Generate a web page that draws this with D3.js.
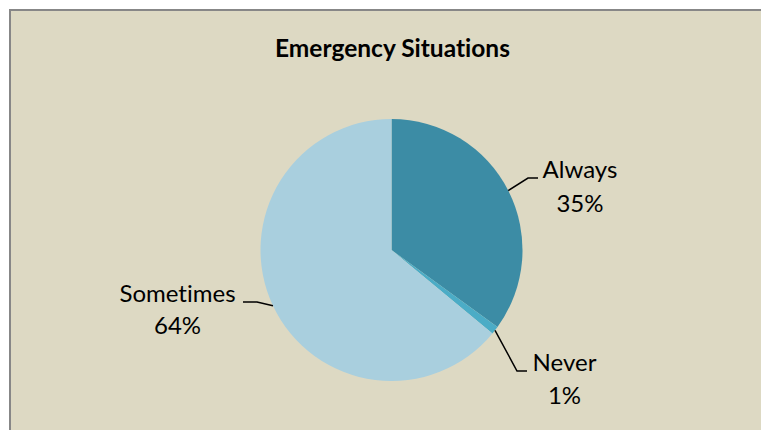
<!DOCTYPE html>
<html>
<head>
<meta charset="utf-8">
<script src="https://cdn.jsdelivr.net/npm/d3@7"></script>
<style>
  html, body { margin: 0; padding: 0; background: #ffffff; }
  svg { display: block; }
  text { font-variant-ligatures: none; font-feature-settings: "liga" 0, "dlig" 0; }
</style>
</head>
<body>
<script>
// Responses to "Emergency Situations"
const categories = ["Always", "Never", "Sometimes"];
const values = [35, 1, 64];
const labels = ["35%", "1%", "64%"];
const colors = ["#3C8CA5", "#4BACC6", "#A9CFDE"];

const width = 761, height = 430;
const cx = 391.5, cy = 250, radius = 131;

const svg = d3.select("body").append("svg")
  .attr("width", width)
  .attr("height", height);

// chart area with grey frame on top and left
svg.append("rect")
  .attr("x", 10).attr("y", 10)
  .attr("width", width - 10).attr("height", height - 10)
  .attr("fill", "#DDD9C3");
svg.append("path")
  .attr("d", `M10,${height} V10 H${width}`)
  .attr("fill", "none")
  .attr("stroke", "#878787")
  .attr("stroke-width", 2);

const font = "Lato, 'Open Sans', sans-serif";

svg.append("text")
  .attr("x", 392.5).attr("y", 57)
  .attr("text-anchor", "middle")
  .attr("font-family", font)
  .attr("font-weight", "bold")
  .attr("font-size", 24.5)
  .attr("fill", "#000")
  .text("Emergency Situations");

const data = categories.map((c, i) => ({ name: c, value: values[i], label: labels[i], color: colors[i] }));

const pie = d3.pie().value(d => d.value).sort(null);
const arc = d3.arc().innerRadius(0).outerRadius(radius);
const arcs = pie(data);

const g = svg.append("g").attr("transform", `translate(${cx},${cy})`);
g.selectAll("path.slice")
  .data(arcs)
  .join("path")
  .attr("class", "slice")
  .attr("d", arc)
  .attr("fill", d => d.data.color);

// leader lines and two-line labels (name over percentage), relative to the pie centre
const labelSpec = {
  Always:    { bend: [136.5, -72], end: [146.5, -72], x: 188.5, y1: -72, y2: -38 },
  Never:     { bend: [125.5, 121], end: [135.5, 121], x: 173,   y1: 121, y2: 154 },
  Sometimes: { bend: [-134.5, 52], end: [-148.5, 52], x: -214,  y1: 52,  y2: 84 }
};

arcs.forEach(a => {
  const s = labelSpec[a.data.name];
  const mid = (a.startAngle + a.endAngle) / 2;
  const p0 = [Math.sin(mid) * radius, -Math.cos(mid) * radius];
  g.append("polyline")
    .attr("points", [p0, s.bend, s.end].map(p => p.join(",")).join(" "))
    .attr("fill", "none")
    .attr("stroke", "#000")
    .attr("stroke-width", 1.5);
  const t = g.append("text")
    .attr("text-anchor", "middle")
    .attr("font-family", font)
    .attr("font-size", 24)
    .attr("fill", "#000");
  t.append("tspan").attr("x", s.x).attr("y", s.y1).text(a.data.name);
  t.append("tspan").attr("x", s.x).attr("y", s.y2).text(a.data.label);
});
</script>
</body>
</html>
